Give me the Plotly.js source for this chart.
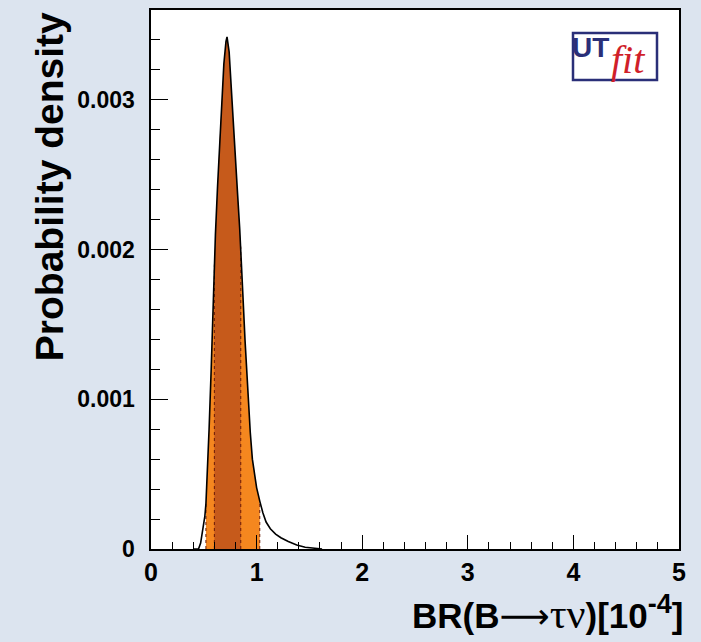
<!DOCTYPE html>
<html>
<head>
<meta charset="utf-8">
<script src="https://cdn.plot.ly/plotly-3.0.1.min.js"></script>
<style>html,body{margin:0;padding:0;background:#dce4ef;}</style>
</head>
<body>
<div id="chart" style="width:701px;height:642px;"></div>
<script>
// BR(B -> tau nu) in units of 1e-4
const br = [0.40,0.45,0.47,0.49,0.51,0.52,0.53,0.55,0.57,0.59,0.60,0.61,0.63,0.65,0.67,0.69,0.71,0.72,0.74,0.76,0.78,0.80,0.82,0.84,0.85,0.87,0.89,0.92,0.94,0.96,0.98,1.00,1.03,1.06,1.09,1.13,1.18,1.23,1.30,1.38,1.46,1.55,1.62];
const density = [0,0,0.00004,0.00012,0.00022,0.00030,0.00045,0.00080,0.00120,0.00168,0.00190,0.00210,0.00242,0.00273,0.00300,0.00324,0.00339,0.00342,0.00332,0.00306,0.00282,0.00259,0.00237,0.00214,0.00202,0.00170,0.00140,0.00100,0.00078,0.00060,0.00049,0.00041,0.00032,0.00024,0.00018,0.000135,0.00010,0.000075,0.00005,0.000027,0.000012,0.000003,0];
const interval95 = [0.52, 1.03];
const interval68 = [0.60, 0.85];
const xTickVals = [0,1,2,3,4,5];
const yTickVals = [0,0.001,0.002,0.003];

function band(lo, hi){
  const xs=[], ys=[];
  br.forEach((v,i)=>{ if(v>=lo-1e-9 && v<=hi+1e-9){ xs.push(v); ys.push(density[i]); } });
  return {xs, ys};
}
function at(v){ return density[br.findIndex(b=>Math.abs(b-v)<1e-9)]; }

const b95 = band(interval95[0], interval95[1]);
const b68 = band(interval68[0], interval68[1]);

const traces = [
  {x:b95.xs, y:b95.ys, type:'scatter', mode:'lines', fill:'tozeroy', fillcolor:'#f5871f', line:{width:0}, hoverinfo:'skip'},
  {x:b68.xs, y:b68.ys, type:'scatter', mode:'lines', fill:'tozeroy', fillcolor:'#c65a1b', line:{width:0}, hoverinfo:'skip'}
];
[interval95[0], interval68[0], interval68[1], interval95[1]].forEach(v=>{
  traces.push({x:[v,v], y:[0, at(v)], type:'scatter', mode:'lines', line:{color:'#6a1a0a', width:1, dash:'dot'}, hoverinfo:'skip'});
});
traces.push({x:br, y:density, type:'scatter', mode:'lines', line:{color:'#000', width:1.6}, hoverinfo:'skip'});

const tickFont = {family:'Liberation Sans, Arial, sans-serif', size:23, color:'#000', weight:'bold'};

const layout = {
  width:701, height:642,
  paper_bgcolor:'#dce4ef', plot_bgcolor:'#ffffff',
  margin:{l:151, r:22, t:10, b:93, pad:0},
  showlegend:false,
  xaxis:{
    range:[0,5], tickvals:xTickVals, ticktext:xTickVals.map(String),
    ticks:'inside', ticklen:14, tickwidth:1.2, tickcolor:'#000',
    minor:{dtick:0.2, tick0:0, ticks:'inside', ticklen:7, tickwidth:1, tickcolor:'#000', showgrid:false},
    showgrid:false, zeroline:false, showline:true, linecolor:'#000', linewidth:1.6, mirror:true,
    tickfont:{...tickFont, size:25}
  },
  yaxis:{
    range:[0,0.0036], tickvals:yTickVals, ticktext:['0','0.001','0.002','0.003'],
    ticks:'inside', ticklen:17, tickwidth:1.2, tickcolor:'#000',
    minor:{dtick:0.0002, tick0:0, ticks:'inside', ticklen:9, tickwidth:1, tickcolor:'#000', showgrid:false},
    showgrid:false, zeroline:false, showline:true, linecolor:'#000', linewidth:1.6, mirror:true,
    tickfont:tickFont, ticklabelstandoff:10
  },
  shapes:[
    {type:'rect', xref:'paper', yref:'paper', x0:(573-151)/528, x1:(657-151)/528, y0:(548.5-80)/538.5, y1:(548.5-33)/538.5,
     line:{color:'#2a2f78', width:2.5}, fillcolor:'#ffffff'}
  ],
  annotations:[
    {xref:'paper', yref:'paper', x:(49-151)/528, y:(548.5-187)/538.5, xanchor:'center', yanchor:'middle',
     text:'<b>Probability density</b>', textangle:-90, showarrow:false,
     font:{family:'Liberation Sans, Arial, sans-serif', size:39, color:'#000'}},
    {xref:'paper', yref:'paper', x:(685-151)/528, y:(548.5-612)/538.5, xanchor:'right', yanchor:'middle',
     text:"<b>BR(B</b><span style='font-family:DejaVu Sans'>⟶</span><span style='font-family:Liberation Serif;font-size:42px'>τν</span><b>)[10<sup><span style='font-size:27px'>-4</span></sup>]</b>",
     showarrow:false, font:{family:'Liberation Sans, Arial, sans-serif', size:35, color:'#000'}},
    {xref:'paper', yref:'paper', x:(590-151)/528, y:(548.5-47)/538.5, xanchor:'center', yanchor:'middle',
     text:'<b>UT</b>', showarrow:false, font:{family:'Liberation Sans, Arial, sans-serif', size:28, color:'#2a2f78'}},
    {xref:'paper', yref:'paper', x:(628-151)/528, y:(548.5-59)/538.5, xanchor:'center', yanchor:'middle',
     text:'<i>fit</i>', showarrow:false, font:{family:'Liberation Serif, Times New Roman, serif', size:40, color:'#d01f2a'}}
  ]
};

Plotly.newPlot('chart', traces, layout, {staticPlot:true, displayModeBar:false});
</script>
</body>
</html>
